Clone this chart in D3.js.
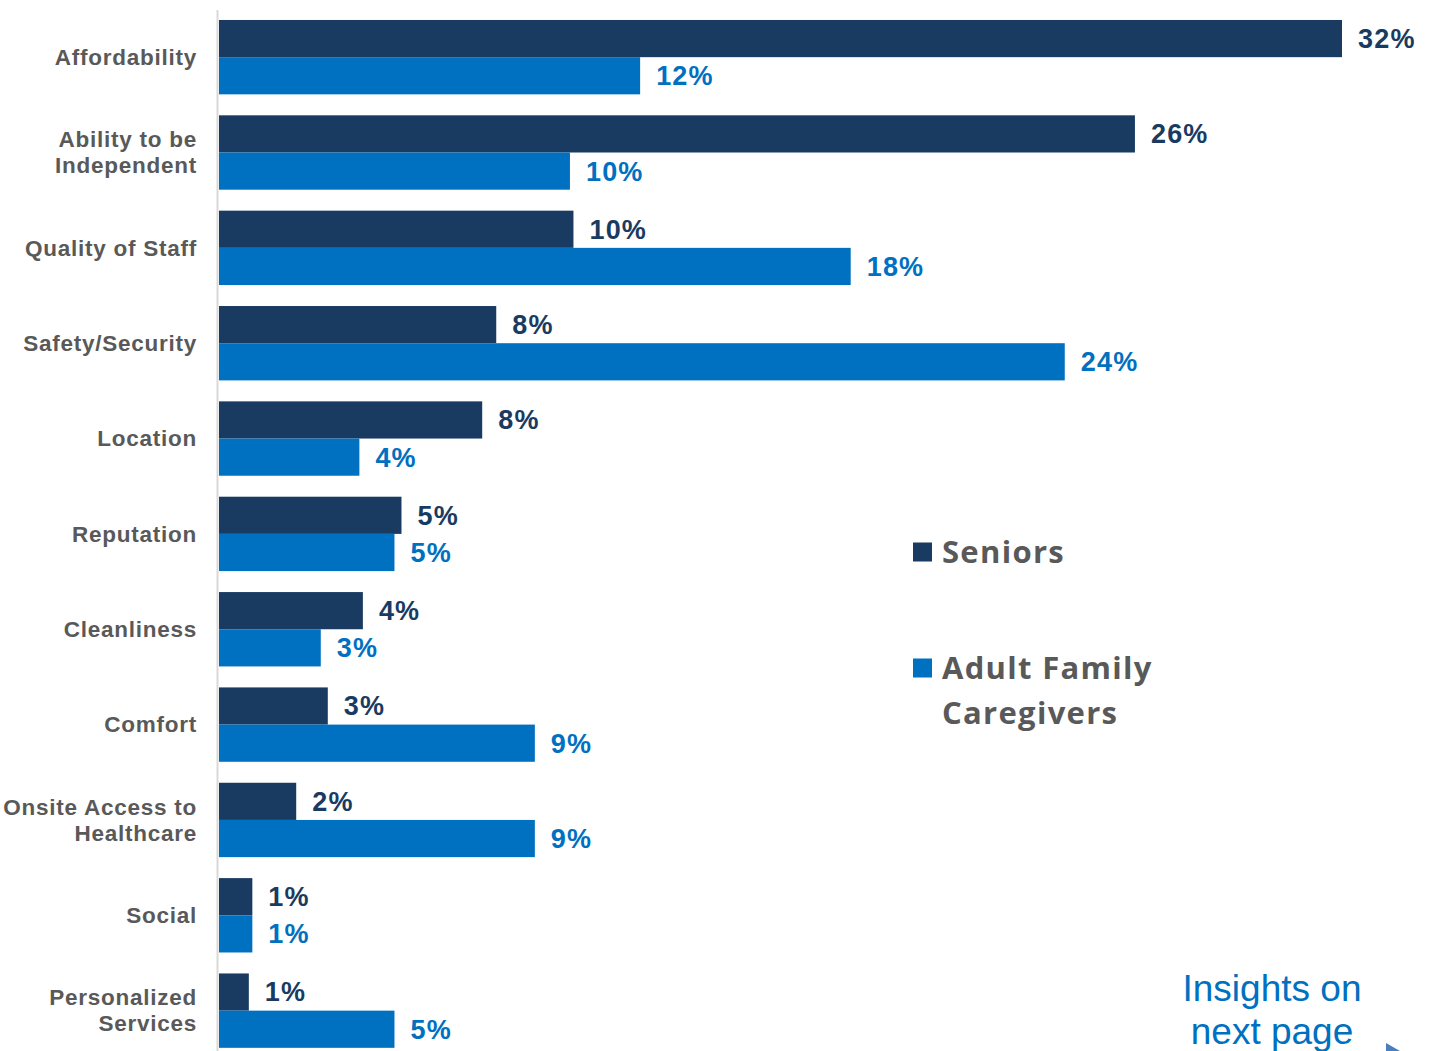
<!DOCTYPE html>
<html>
<head>
<meta charset="utf-8">
<script src="https://cdn.jsdelivr.net/npm/d3@7"></script>
<style>
  body { margin: 0; background: #fff; }
  svg { display: block; }
</style>
</head>
<body>
<div id="chart"></div>
<script>
// Data
var categories = ["Affordability", "Ability to be|Independent", "Quality of Staff", "Safety/Security",
                  "Location", "Reputation", "Cleanliness", "Comfort", "Onsite Access to|Healthcare",
                  "Social", "Personalized|Services"];
var seniors    = [32, 26.1, 10.1, 7.9, 7.5, 5.2, 4.1, 3.1, 2.2, 0.95, 0.85];
var caregivers = [12, 10, 18, 24.1, 4, 5, 2.9, 9, 9, 0.95, 5];
var seniorLabels    = ["32%", "26%", "10%", "8%", "8%", "5%", "4%", "3%", "2%", "1%", "1%"];
var caregiverLabels = ["12%", "10%", "18%", "24%", "4%", "5%", "3%", "9%", "9%", "1%", "5%"];
var seriesNames = ["Seniors", "Adult Family|Caregivers"];
var colors = ["#1a3b61", "#0070c0"];

var width = 1434, height = 1051;
var svg = d3.select("#chart").append("svg")
  .attr("width", width)
  .attr("height", height);

var x = d3.scaleLinear().domain([0, 32]).range([219, 1342]);

var y = d3.scaleBand()
  .domain(categories)
  .range([-1, 1068.8])
  .paddingInner(0.22)
  .paddingOuter(0.22);

var sub = d3.scaleBand()
  .domain([0, 1])
  .range([0, y.bandwidth()]);

var rows = categories.map(function(c, i){
  return {cat: c, vals: [seniors[i], caregivers[i]], labels: [seniorLabels[i], caregiverLabels[i]]};
});

// axis line
svg.append("line")
  .attr("x1", 217.5).attr("x2", 217.5)
  .attr("y1", 10).attr("y2", height)
  .attr("stroke", "#d9d9d9")
  .attr("stroke-width", 2);

var g = svg.selectAll("g.row")
  .data(rows)
  .enter().append("g")
  .attr("class", "row")
  .attr("transform", function(d){ return "translate(0," + y(d.cat) + ")"; });

g.selectAll("rect")
  .data(function(d){ return d.vals.map(function(v, k){ return {v: v, k: k}; }); })
  .enter().append("rect")
  .attr("x", x(0))
  .attr("y", function(d){ return sub(d.k); })
  .attr("width", function(d){ return x(d.v) - x(0); })
  .attr("height", sub.bandwidth())
  .attr("fill", function(d){ return colors[d.k]; });

g.selectAll("text.val")
  .data(function(d){ return d.vals.map(function(v, k){ return {v: v, k: k, l: d.labels[k]}; }); })
  .enter().append("text")
  .attr("class", "val")
  .attr("x", function(d){ return x(d.v) + 16; })
  .attr("y", function(d){ return sub(d.k) + sub.bandwidth() / 2; })
  .attr("dy", "0.35em")
  .attr("font-family", "Liberation Sans, Arial, sans-serif")
  .attr("font-weight", "bold")
  .attr("font-size", 27)
  .attr("letter-spacing", 1.2)
  .attr("fill", function(d){ return colors[d.k]; })
  .text(function(d){ return d.l; });

// category labels
g.append("text")
  .attr("class", "cat")
  .attr("text-anchor", "end")
  .attr("font-family", "Liberation Sans, Arial, sans-serif")
  .attr("font-weight", "bold")
  .attr("font-size", 22.5)
  .attr("letter-spacing", 0.75)
  .attr("fill", "#595959")
  .each(function(d){
    var lines = d.cat.split("|");
    var t = d3.select(this);
    var y0 = y.bandwidth() / 2 - (lines.length - 1) * 13;
    lines.forEach(function(s, i){
      t.append("tspan")
        .attr("x", 197)
        .attr("y", y0 + i * 26)
        .attr("dy", "0.35em")
        .text(s);
    });
  });

// legend
var legend = svg.append("g").attr("transform", "translate(913,0)");
var legendY = [552, 668];
seriesNames.forEach(function(name, i){
  legend.append("rect")
    .attr("x", 0).attr("y", legendY[i] - 9.5)
    .attr("width", 19).attr("height", 19)
    .attr("fill", colors[i]);
  var t = legend.append("text")
    .attr("font-family", "Open Sans, Noto Sans, sans-serif")
    .attr("font-weight", "bold")
    .attr("font-size", 31)
    .attr("letter-spacing", 1.3)
    .attr("fill", "#595959");
  name.split("|").forEach(function(s, j){
    t.append("tspan")
      .attr("x", 29)
      .attr("y", legendY[i] + j * 45)
      .attr("dy", "0.35em")
      .text(s);
  });
});

// note
var note = svg.append("text")
  .attr("text-anchor", "middle")
  .attr("font-family", "Liberation Sans, Arial, sans-serif")
  .attr("font-size", 37)
  .attr("fill", "#0070c0");
note.append("tspan").attr("x", 1272).attr("y", 1001).text("Insights on");
note.append("tspan").attr("x", 1272).attr("y", 1044).text("next page");

svg.append("path")
  .attr("d", "M1386,1043 L1400,1051 L1386,1051 Z")
  .attr("fill", "#4a7ebf");
</script>
</body>
</html>
